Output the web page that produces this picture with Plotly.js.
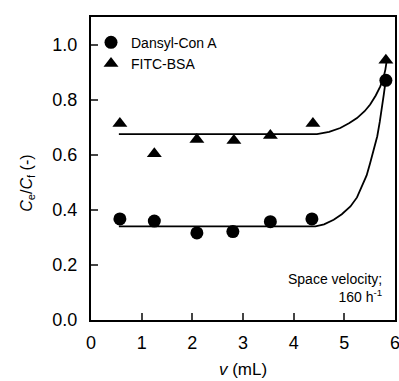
<!DOCTYPE html>
<html><head><meta charset="utf-8">
<script src="https://cdn.plot.ly/plotly-3.0.1.min.js"></script>
<style>html,body{margin:0;padding:0;background:#fff}#c{width:399px;height:381px}</style>
</head><body><div id="c"></div>
<script>
// measured points
const conA_x = [0.57, 1.25, 2.09, 2.80, 3.54, 4.36, 5.82];
const conA_y = [0.367, 0.359, 0.316, 0.321, 0.357, 0.367, 0.870];
const bsa_x = [0.57, 1.25, 2.09, 2.82, 3.54, 4.38, 5.82];
const bsa_y = [0.713, 0.604, 0.655, 0.652, 0.670, 0.713, 0.943];
// fitted curves
const fitA_x = [0.55, 4.43, 4.60, 4.79, 4.95, 5.12, 5.25, 5.35, 5.44, 5.51, 5.58, 5.65, 5.70, 5.75, 5.78, 5.81, 5.83];
const fitA_y = [0.340, 0.340, 0.347, 0.364, 0.384, 0.412, 0.445, 0.485, 0.525, 0.570, 0.615, 0.667, 0.720, 0.776, 0.820, 0.861, 0.890];
const fitB_x = [0.55, 4.46, 4.70, 4.92, 5.10, 5.25, 5.40, 5.51, 5.62, 5.71, 5.77, 5.81, 5.84];
const fitB_y = [0.675, 0.675, 0.683, 0.697, 0.715, 0.733, 0.758, 0.782, 0.815, 0.848, 0.878, 0.909, 0.945];
const xTicks = [0, 1, 2, 3, 4, 5, 6];
const yTicks = [0.0, 0.2, 0.4, 0.6, 0.8, 1.0];
const yTickText = ['0.0', '0.2', '0.4', '0.6', '0.8', '1.0'];

const F = 'Liberation Sans, Arial, sans-serif';
const traces = [
  {x: fitA_x, y: fitA_y, mode: 'lines', line: {color: '#000', width: 1.8}, showlegend: false, hoverinfo: 'skip'},
  {x: fitB_x, y: fitB_y, mode: 'lines', line: {color: '#000', width: 1.8}, showlegend: false, hoverinfo: 'skip'},
  {x: conA_x, y: conA_y, mode: 'markers', name: 'Dansyl-Con A', marker: {symbol: 'circle', size: 13, color: '#000'}, cliponaxis: false},
  {x: bsa_x, y: bsa_y, mode: 'markers', name: 'FITC-BSA', marker: {symbol: 'triangle-up', size: 13, color: '#000'}, cliponaxis: false}
];
const layout = {
  width: 399, height: 381,
  margin: {l: 91, r: 4, t: 17, b: 61},
  paper_bgcolor: '#fff', plot_bgcolor: '#fff',
  font: {family: F, color: '#000', size: 18},
  showlegend: true,
  legend: {x: 0.0, y: 0.968, xanchor: 'left', yanchor: 'top', bgcolor: 'rgba(0,0,0,0)', font: {size: 14, family: F}, tracegroupgap: 0},
  xaxis: {range: [0, 6], tickvals: xTicks, ticks: 'inside', ticklen: 7, tickwidth: 2, showline: true, linewidth: 2, linecolor: '#000', mirror: true, showgrid: false, zeroline: false, tickfont: {size: 18}, ticklabelstandoff: 5, ticklabeloverflow: 'allow',
    title: {text: '<i>v</i> (mL)', font: {size: 17}, standoff: 12}},
  yaxis: {range: [0, 1.1], tickvals: yTicks, ticktext: yTickText, ticks: 'inside', ticklen: 7, tickwidth: 2, showline: true, linewidth: 2, linecolor: '#000', mirror: true, showgrid: false, zeroline: false, tickfont: {size: 18}, ticklabelstandoff: 8},
  annotations: [
    {xref: 'paper', yref: 'paper', x: -0.21, y: 0.45, text: '<i>C</i><sub>e</sub>/<i>C</i><sub>f</sub> (-)', textangle: -90, showarrow: false, font: {size: 16, family: F}, xanchor: 'center', yanchor: 'middle'},
    {xref: 'paper', yref: 'paper', x: 0.965, y: 0.105, text: 'Space velocity;<br>160 h<sup>-1</sup>', align: 'right', showarrow: false, font: {size: 14, family: F}, xanchor: 'right', yanchor: 'middle'}
  ]
};
Plotly.newPlot('c', traces, layout, {staticPlot: true, displayModeBar: false});
</script></body></html>
